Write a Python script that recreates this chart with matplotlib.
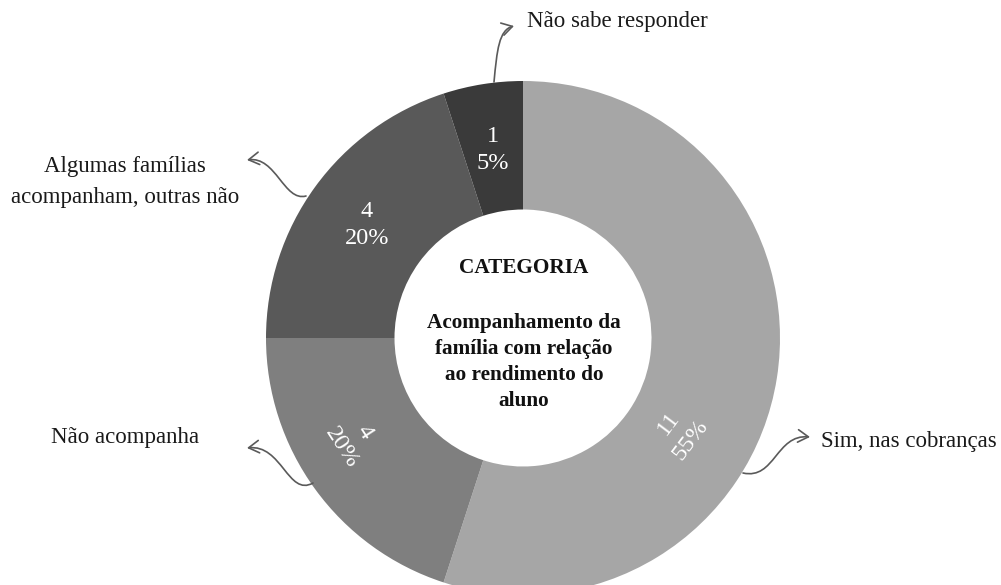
import numpy as np
import matplotlib.pyplot as plt
from matplotlib.patches import FancyArrowPatch
from matplotlib.path import Path

# ── Data ─────────────────────────────────────────────
categories = ['Sim, nas cobranças', 'Não acompanha',
              'Algumas famílias\nacompanham, outras não', 'Não sabe responder']
counts = [11, 4, 4, 1]
colors = ['#a6a6a6', '#7f7f7f', '#595959', '#3a3a3a']
center_title = 'CATEGORIA'
center_text = 'Acompanhamento da\nfamília com relação\nao rendimento do\naluno'

plt.rcParams['font.family'] = ['Liberation Serif', 'DejaVu Serif']

W, H, DPI = 1001, 585, 100
CX, CY, S = 523, 338, 257.0   # pixel centre of the donut and px per unit


def px(x, y):
    # pixel position -> data units
    return ((x - CX) / S, (CY - y) / S)


fig = plt.figure(figsize=(W / DPI, H / DPI), dpi=DPI)
ax = fig.add_axes([0, 0, 1, 1])

wedges, _ = ax.pie(counts, colors=colors, startangle=90, counterclock=False,
                   radius=1.0, wedgeprops=dict(width=0.5, linewidth=0))

ax.set_xlim(-CX / S, (W - CX) / S)
ax.set_ylim((CY - H) / S, CY / S)
ax.set_aspect('equal')
ax.axis('off')

# ── Slice labels (count + percent) ────────────────────
total = sum(counts)
# angle shift / tangential rotation per slice (as in the original layout)
shift = [-22, -5, 0, 0]
rot = [53, -57, 0, 0]
rad = [0.71, 0.77, 0.75, 0.74]
for w, n, d, r, rr in zip(wedges, counts, shift, rot, rad):
    ang = np.deg2rad((w.theta1 + w.theta2) / 2 + d)
    ax.text(rr * np.cos(ang), rr * np.sin(ang),
            f'{n}\n{n / total:.0%}', color='white', fontsize=17.5,
            ha='center', va='center', rotation=r, linespacing=1.4,
            rotation_mode='anchor')

# ── Centre text ──────────────────────────────────────
ax.text(*px(524, 268), center_title, ha='center', va='center',
        fontsize=15.3, fontweight='bold', color='#111111')
ax.text(*px(524, 362), center_text, ha='center', va='center',
        fontsize=15.3, fontweight='bold', color='#111111', linespacing=1.42)

# ── Outer category labels ────────────────────────────
lab_kw = dict(fontsize=16.5, color='#1a1a1a')
ax.text(*px(821, 441), categories[0], ha='left', va='center', **lab_kw)
ax.text(*px(125, 437), categories[1], ha='center', va='center', **lab_kw)
ax.text(*px(125, 182), categories[2], ha='center', va='center',
        linespacing=1.6, **lab_kw)
ax.text(*px(527, 22), categories[3], ha='left', va='center', **lab_kw)

# ── Curly connector arrows ───────────────────────────
curves = [
    [(743, 473), (775, 480), (776, 434), (810, 437)],
    [(313, 483), (288, 497), (282, 444), (247, 448)],
    [(306, 196), (284, 202), (276, 156), (247, 160)],
    [(494, 82), (497, 50), (499, 30), (514, 26)],
]
for c in curves:
    verts = [px(*p) for p in c]
    path = Path(verts, [Path.MOVETO, Path.CURVE4, Path.CURVE4, Path.CURVE4])
    ax.add_patch(FancyArrowPatch(path=path, arrowstyle='->,head_length=5,head_width=3',
                                 color='#5a5a5a', lw=1.2, mutation_scale=1.5))

fig.savefig('out.png', dpi=DPI)
